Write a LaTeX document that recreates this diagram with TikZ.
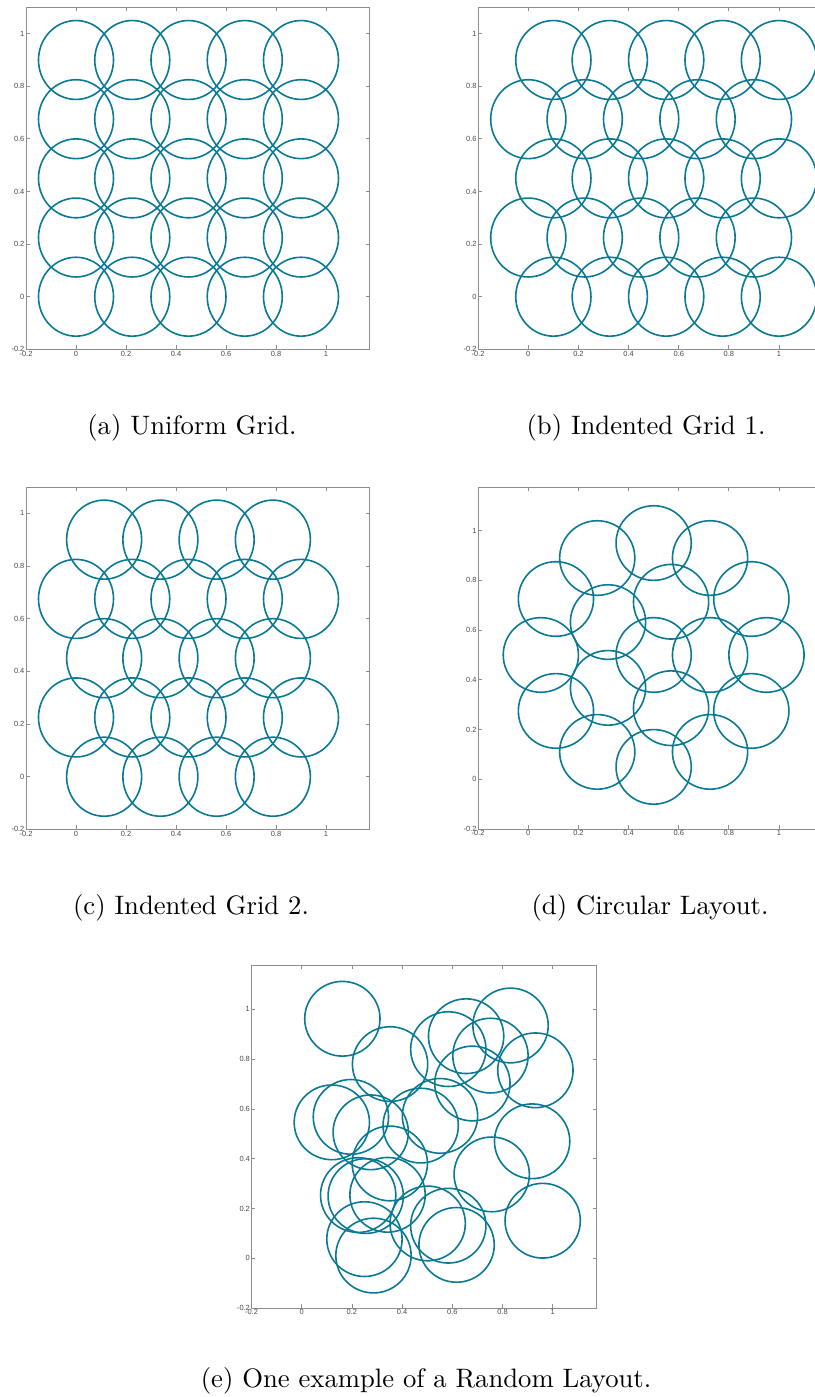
\documentclass[tikz,border=0pt]{standalone}
\usepackage{fontspec}
\usepackage{tikz}
\usetikzlibrary{calc}
\newfontfamily\ticksans{Liberation Sans}
\definecolor{circleTeal}{HTML}{0A7A94}
\definecolor{frameGray}{HTML}{8E8E8E}
\definecolor{tickGray}{HTML}{4A4A4A}

% box, ticks and tick labels of one plot, in data coordinates
\newcommand{\plotaxes}[3]{%
  \draw[frameline] (-0.2,-0.2) rectangle (#2,#3);
  \foreach \t [count=\i] in {-0.2,0,0.2,0.4,0.6,0.8,1} {
    \draw[frameline] (\t,-0.2) -- ++(0,0.015) (\t,#3) -- ++(0,-0.015);
    \draw[frameline] (-0.2,\t) -- ++(0.015,0) (#2,\t) -- ++(-0.015,0);
    \node[ticklabel,anchor=north] (#1x\i) at (\t,-0.2) {\t};
    \node[ticklabel,anchor=east] (#1y\i) at (-0.2,\t) {\t};
  }}

\begin{document}
\begin{tikzpicture}[x=0.375pt, y=-0.375pt,
  frameline/.style={draw=frameGray,line width=0.3pt},
  ticklabel/.style={font=\ticksans\fontsize{2.8}{3}\selectfont,text=tickGray,inner sep=0.4pt},
  ring/.style={draw=circleTeal,line width=0.6pt},
  caption/.style={font=\fontsize{10}{12}\selectfont,inner sep=0pt}]
\path[use as bounding box,fill=white] (0,0) rectangle (815,1397);
\clip (0,0) rectangle (815,1397);

% (a) uniform grid
\begin{scope}[shift={(76,296.7)},x=93.75pt,y=98.63pt]
  \plotaxes{a}{1.175}{1.1}
  \foreach \cx in {0,0.225,0.45,0.675,0.9}
    \foreach \cy in {0,0.225,0.45,0.675,0.9}
      \draw[ring] (\cx,\cy) circle[radius=0.15];
\end{scope}

% (b) indented grid 1
\begin{scope}[shift={(528.3,296.7)},x=94.01pt,y=98.63pt]
  \plotaxes{b}{1.175}{1.1}
  \foreach \cy in {0,0.45,0.9}
    \foreach \cx in {0.1,0.325,0.55,0.775,1}
      \draw[ring] (\cx,\cy) circle[radius=0.15];
  \foreach \cy in {0.225,0.675}
    \foreach \cx in {0,0.225,0.45,0.675,0.9}
      \draw[ring] (\cx,\cy) circle[radius=0.15];
\end{scope}

% (c) indented grid 2
\begin{scope}[shift={(76,776.7)},x=93.75pt,y=98.78pt]
  \plotaxes{c}{1.175}{1.1}
  \foreach \cy in {0,0.45,0.9}
    \foreach \cx in {0.1125,0.3375,0.5625,0.7875}
      \draw[ring] (\cx,\cy) circle[radius=0.15];
  \foreach \cy in {0.225,0.675}
    \foreach \cx in {0,0.225,0.45,0.675,0.9}
      \draw[ring] (\cx,\cy) circle[radius=0.15];
\end{scope}

% (d) circular layout
\begin{scope}[shift={(528.3,779.3)},x=94.01pt,y=93.26pt]
  \plotaxes{d}{1.175}{1.175}
  \draw[ring] (0.5,0.5) circle[radius=0.15];
  \foreach \w in {0,72,...,288}
    \draw[ring] ($(0.5,0.5)+(\w:0.225)$) circle[radius=0.15];
  \foreach \w in {0,30,...,330}
    \draw[ring] ($(0.5,0.5)+(\w:0.45)$) circle[radius=0.15];
\end{scope}

% (e) random layout
\begin{scope}[shift={(301.7,1258.3)},x=94.13pt,y=93.38pt]
  \plotaxes{e}{1.175}{1.175}
  \foreach \cx/\cy in {0.162/0.962, 0.352/0.780, 0.584/0.840, 0.655/0.892,
      0.832/0.935, 0.752/0.814, 0.931/0.755, 0.680/0.702, 0.551/0.572,
      0.474/0.533, 0.120/0.546, 0.196/0.568, 0.275/0.506, 0.351/0.381,
      0.918/0.470, 0.757/0.337, 0.960/0.151, 0.225/0.254, 0.255/0.250,
      0.342/0.255, 0.502/0.140, 0.584/0.131, 0.617/0.054, 0.250/0.077,
      0.286/0.011}
    \draw[ring] (\cx,\cy) circle[radius=0.15];
\end{scope}

\node[caption] (capa) at (192,428) {(a) Uniform Grid.};
\node[caption] (capb) at (646,428) {(b) Indented Grid 1.};
\node[caption] (capc) at (191,908) {(c) Indented Grid 2.};
\node[caption] (capd) at (650,908) {(d) Circular Layout.};
\node[caption] (cape) at (426,1381) {(e) One example of a Random Layout.};
\end{tikzpicture}
\end{document}
